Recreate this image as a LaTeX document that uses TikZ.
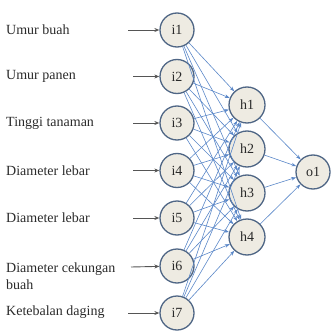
\documentclass[tikz,border=0pt]{standalone}
\usepackage{fontspec}
\setmainfont{Liberation Serif}
\usetikzlibrary{arrows.meta}
\definecolor{nodeborder}{HTML}{4F6685}
\definecolor{nodefill}{HTML}{EEEBE2}
\definecolor{linkblue}{HTML}{5A87C8}
\definecolor{inarrow}{HTML}{555555}
\definecolor{textgray}{HTML}{2A2A2A}
\begin{document}
\begin{tikzpicture}[x=1pt,y=-1pt,
  neuron/.style={circle,draw=nodeborder,line width=1.3pt,fill=nodefill,inner sep=0pt,
    text=textgray,font=\fontsize{14}{15}\selectfont},
  inneuron/.style={neuron,minimum size=34pt},
  hidneuron/.style={neuron,minimum size=36pt},
  outneuron/.style={neuron,minimum size=34pt},
  featlabel/.style={anchor=west,align=left,inner sep=0pt,text=textgray,
    font=\fontsize{14}{17}\selectfont},
  inlink/.style={draw=inarrow,line width=0.9pt,-{Stealth[length=5pt,width=4pt]}},
  link/.style={draw=linkblue,line width=0.6pt,-{Stealth[length=5pt,width=3.5pt]}}]
\useasboundingbox (0,0) rectangle (332,334);
% input neurons
\node[inneuron] (i1) at (177,30) {i1};
\node[inneuron] (i2) at (177,76.5) {i2};
\node[inneuron] (i3) at (177,123) {i3};
\node[inneuron] (i4) at (177,170.5) {i4};
\node[inneuron] (i5) at (177,218) {i5};
\node[inneuron] (i6) at (177,266) {i6};
\node[inneuron] (i7) at (177,313) {i7};
% hidden neurons
\node[hidneuron] (h1) at (247,105) {h1};
\node[hidneuron] (h2) at (247,149) {h2};
\node[hidneuron] (h3) at (247,193) {h3};
\node[hidneuron] (h4) at (247,237) {h4};
% output neuron
\node[outneuron] (o1) at (313,172) {o1};
% feature labels
\node[featlabel] (t1) at (6,30) {Umur buah};
\node[featlabel] (t2) at (6,76.5) {Umur panen};
\node[featlabel] (t3) at (6,123) {Tinggi tanaman};
\node[featlabel] (t4) at (6,170.5) {Diameter lebar};
\node[featlabel] (t5) at (6,218) {Diameter lebar};
\node[featlabel] (t6) at (6,276) {Diameter cekungan\\buah};
\node[featlabel] (t7) at (6,312) {Ketebalan daging};
% input arrow starts
\coordinate (s1) at (128,30);
\coordinate (s2) at (133,76.5);
\coordinate (s3) at (133,123);
\coordinate (s4) at (133,170.5);
\coordinate (s5) at (133,218);
\coordinate (s6) at (131,267);
\coordinate (s7) at (128,313);
\foreach \k in {1,...,7} {
  \draw[inlink] (s\k) -- (i\k);
}
% input to hidden
\foreach \a in {1,...,7} {
  \foreach \b in {1,...,4} {
    \draw[link] (i\a) -- (h\b);
  }
}
% hidden to output
\foreach \b in {1,...,4} {
  \draw[link] (h\b) -- (o1);
}
\end{tikzpicture}
\end{document}
